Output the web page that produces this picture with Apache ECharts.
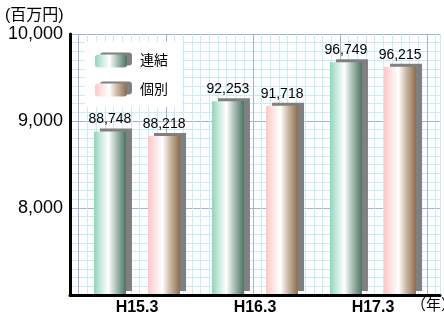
<!DOCTYPE html>
<html lang="ja">
<head>
<meta charset="UTF-8">
<title>連結・個別</title>
<style>
  * { margin: 0; padding: 0; }
  body { background: #fff; }
  #chart { width: 444px; height: 316px; }
</style>
</head>
<body>
<div id="chart"></div>
<script src="https://cdn.jsdelivr.net/npm/echarts@6/dist/echarts.min.js"></script>
<script>
// 売上データ（百万円）
const categories = ['H15.3', 'H16.3', 'H17.3'];
const consolidated = [88748, 92253, 96749];   // 連結
const standalone = [88218, 91718, 96215];     // 個別
const yTicks = [70000, 80000, 90000, 100000];

const FONT = '"Liberation Sans", "Noto Sans CJK JP", sans-serif';
const fmt = v => v.toLocaleString('en-US');

const greenGrad = {
  type: 'linear', x: 0, y: 0, x2: 1, y2: 0,
  colorStops: [
    { offset: 0, color: '#92d5b8' },
    { offset: 0.2, color: '#c4eadb' },
    { offset: 0.45, color: '#ffffff' },
    { offset: 0.7, color: '#a9bdb3' },
    { offset: 1, color: '#4a7562' }
  ]
};
const pinkGrad = {
  type: 'linear', x: 0, y: 0, x2: 1, y2: 0,
  colorStops: [
    { offset: 0, color: '#ffc6c6' },
    { offset: 0.2, color: '#ffe2e2' },
    { offset: 0.45, color: '#ffffff' },
    { offset: 0.7, color: '#c9b6a2' },
    { offset: 1, color: '#8c6c4c' }
  ]
};
const shadow = { shadowColor: '#808080', shadowBlur: 0, shadowOffsetX: 6, shadowOffsetY: -3 };

const chart = echarts.init(document.getElementById('chart'));

const yMin = yTicks[0], yMax = yTicks[yTicks.length - 1], yStep = yTicks[1] - yTicks[0];

const option = {
  animation: false,
  textStyle: { fontFamily: FONT },
  title: [
    { text: '(百万円)', left: 5, top: 8, padding: 0,
      textStyle: { fontSize: 16, fontWeight: 'normal', color: '#000', fontFamily: FONT } },
    { text: '（年）', left: 411, top: 298, padding: 0,
      textStyle: { fontSize: 15, fontWeight: 'normal', color: '#000', fontFamily: FONT } }
  ],
  legend: {
    data: ['連結', '個別'],
    orient: 'vertical',
    left: 85, top: 42,
    padding: [12, 14, 10, 10],
    backgroundColor: '#fff',
    itemWidth: 32, itemHeight: 13, itemGap: 15,
    itemStyle: { shadowColor: '#808080', shadowBlur: 0, shadowOffsetX: 5, shadowOffsetY: -2 },
    textStyle: { fontSize: 14, color: '#000', padding: [0, 0, 0, 8], fontFamily: FONT }
  },
  grid: [
    { left: 70, right: 4, top: 34, bottom: 21 },     // 背景（細グリッド・軸）
    { left: 78.7, right: 4, top: 34, bottom: 21 },   // 太めの縦グリッド
    { left: 78, right: 12, top: 34, bottom: 21 }     // 棒グラフ
  ],
  xAxis: [
    { gridIndex: 0, type: 'value', min: 0, max: 42.5, interval: 1,
      axisLine: { show: true, onZero: false, lineStyle: { color: '#000', width: 3 } },
      axisTick: { show: false }, axisLabel: { show: false },
      splitLine: { show: true, lineStyle: { color: '#c8ebf5', width: 1 } } },
    { gridIndex: 1, type: 'value', min: 0, max: 41.5, interval: 10,
      axisLine: { show: false }, axisTick: { show: false }, axisLabel: { show: false },
      splitLine: { show: true, showMaxLine: false, lineStyle: { color: '#a4b0dd', width: 1 } } },
    { gridIndex: 2, type: 'category', data: categories,
      axisLine: { show: false }, axisTick: { show: false },
      axisLabel: { fontSize: 16, fontWeight: 'bold', color: '#000', margin: 6, fontFamily: FONT } }
  ],
  yAxis: [
    { gridIndex: 0, type: 'value', min: yMin, max: yMax, interval: yStep,
      axisLine: { show: true, onZero: false, lineStyle: { color: '#000', width: 3 } },
      axisTick: { show: false },
      axisLabel: { fontSize: 18, color: '#000', margin: 7, fontFamily: FONT,
        formatter: v => (v === yMin ? '' : fmt(v / 10)) },
      splitLine: { show: true, lineStyle: { color: '#a4b0dd', width: 1 } },
      minorTick: { show: false, splitNumber: 10 },
      minorSplitLine: { show: true, lineStyle: { color: '#c8ebf5', width: 1 } } },
    { gridIndex: 1, type: 'value', min: yMin, max: yMax, show: false },
    { gridIndex: 2, type: 'value', min: yMin, max: yMax, show: false }
  ],
  series: [
    {
      name: '連結', type: 'bar', xAxisIndex: 2, yAxisIndex: 2,
      data: consolidated, barWidth: 32, barGap: '69%',
      itemStyle: Object.assign({ color: greenGrad }, shadow),
      label: { show: true, position: 'top', distance: 5, fontSize: 14, color: '#000',
        fontFamily: FONT, formatter: p => fmt(p.value) }
    },
    {
      name: '個別', type: 'bar', xAxisIndex: 2, yAxisIndex: 2,
      data: standalone, barWidth: 32, barGap: '69%',
      itemStyle: Object.assign({ color: pinkGrad }, shadow),
      label: { show: true, position: 'top', distance: 5, fontSize: 14, color: '#000',
        fontFamily: FONT, formatter: p => fmt(p.value) }
    }
  ]
};

chart.setOption(option);
</script>
</body>
</html>
